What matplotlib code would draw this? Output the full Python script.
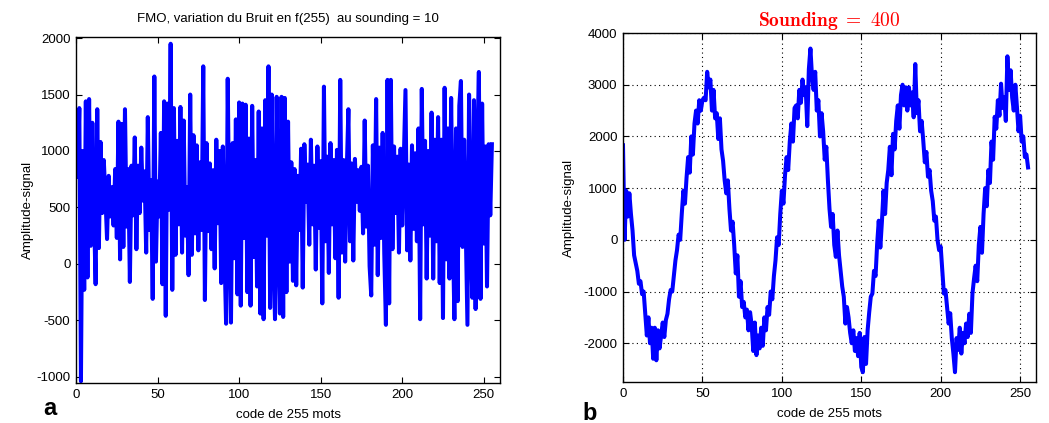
import matplotlib.pyplot as plt
import numpy as np

plt.rcParams['font.family'] = ['Liberation Sans', 'DejaVu Sans']
plt.rcParams['axes.unicode_minus'] = False
plt.rcParams['mathtext.fontset'] = 'cm'

# panel a : noise, sounding = 10  (x = 1..255)
noise_a = [
    770, 1380, -1040, 1000, -230, 1440, -120, 1460, 160, 1250,
    450, -180, 1370, 140, 1080, 450, 920, 600, 220, 780,
    420, 680, 340, 840, 230, 1260, 40, 1240, 150, 1370,
    330, 840, -160, 870, 430, 1120, 130, 870, 450, 1030,
    560, 820, 100, 1300, 300, 740, -310, 1660, 20, 730,
    420, 1160, -180, 1440, -460, 1420, 480, 1950, -230, 1380,
    80, 1090, 350, 1390, 100, 1270, 250, 680, -100, 1500,
    80, 1140, 270, 1050, 120, 900, 300, 1750, -320, 1070,
    290, 890, 130, 830, -40, 1100, 360, 1000, -170, 1040,
    110, -530, 1640, 280, -520, 1070, 50, 1280, -270, 1430,
    -370, 1420, 230, 1410, -250, 1110, -370, 1400, 60, 920,
    -200, 1350, -440, 1200, -490, 1450, 250, 1750, -390, 1500,
    100, -490, 1480, 200, -440, 1480, -470, 1470, -250, 1260,
    20, 900, -150, 840, -190, 780, 300, 1020, -210, 1060,
    550, 880, 170, 1100, 350, 870, -50, 1040, 320, 910,
    -350, 1570, 200, 950, -80, 1070, 350, 920, 50, 1010,
    -300, 1630, 100, 920, 20, 830, 1370, 200, 890, 30,
    930, 550, 830, 470, 860, 270, 1270, 330, 870, -20,
    -280, 1050, 170, 1460, -100, 1030, 230, 1160, 90, -540,
    1630, -350, 1630, 130, 1040, 450, 950, 100, 1020, 340,
    950, 1540, 120, 880, 30, 1050, 310, 980, 200, 1200,
    -490, 1550, 350, 1090, -130, 1000, 250, 1340, -130, 1100,
    200, 1300, -170, 1100, -480, 1560, 40, 1200, -130, 1470,
    320, -490, 1200, -330, 1400, 1620, 150, 1100, 300, -540,
    1500, 210, -300, 1450, -400, 1000, 1700, -310, 1420, 180,
    1040, -200, 1060, 430, 1060,
]

# panel b : sounding = 400  (x = 0..255)
signal_b = [
    1830, 0, 950, 450, 900, 500, 180, -300, -450, -600,
    -850, -800, -1050, -1000, -1430, -1850, -1500, -2000, -1700, -2300,
    -1700, -2330, -1750, -2100, -1850, -1600, -1880, -1550, -1430, -1150,
    -970, -1000, -700, -400, -200, 100, 0, 500, 950, 700,
    1200, 1600, 1300, 2000, 1650, 2250, 2500, 2250, 2700, 2500,
    2700, 2750, 2700, 3250, 2950, 3100, 2500, 2900, 2350, 2450,
    1950, 2350, 1750, 1530, 1150, 900, 1150, 600, 180, 350,
    -100, -650, -300, -1100, -800, -1300, -1200, -1500, -1350, -1750,
    -1400, -1650, -2150, -1600, -2230, -1850, -2100, -1700, -2050, -1500,
    -1750, -1300, -1450, -1000, -1150, -700, -400, 50, -100, 500,
    950, 700, 1250, 1600, 1350, 1900, 2250, 1900, 2550, 2600,
    2350, 2900, 2650, 3100, 2800, 2950, 2200, 3300, 3700, 3150,
    2900, 3250, 2500, 2700, 2000, 2450, 2100, 1550, 1800, 1150,
    600, 250, 500, -100, -330, 180, -300, -600, -900, -1100,
    -1620, -1300, -1500, -1800, -2000, -1750, -2150, -1900, -2250, -1800,
    -2460, -2560, -1880, -2400, -1750, -1400, -1100, -1040, -600, -700,
    -80, 370, -150, 350, 950, 500, 1100, 1350, 1800, 1250,
    2050, 1750, 2300, 2600, 2150, 2800, 3000, 2600, 2950, 2500,
    2950, 2600, 2850, 2370, 3400, 2450, 2700, 2100, 2300, 1930,
    1500, 1700, 1220, 1350, 950, 750, 370, 450, 0, -200,
    -130, -600, -1040, -970, -1300, -1620, -1420, -1900, -2200, -2560,
    -1900, -2130, -1700, -2200, -1800, -2000, -1620, -1880, -1430, -1800,
    -1040, -750, -500, -800, -100, 250, -250, 500, 1000, 650,
    1350, 1100, 1900, 1550, 2380, 2150, 2700, 2400, 3020, 2550,
    2760, 2300, 3550, 2900, 3280, 2750, 2500, 3000, 2570, 2100,
    2400, 1900, 2000, 1600, 1650, 1400,
]

x_a = np.arange(1, len(noise_a) + 1)
x_b = np.arange(len(signal_b))

fig = plt.figure(figsize=(10.49, 4.23), dpi=100)
ax1 = fig.add_axes([0.0725, 0.0946, 0.4042, 0.818])
ax2 = fig.add_axes([0.5939, 0.0969, 0.3937, 0.825])

for ax in (ax1, ax2):
    ax.tick_params(direction='in', top=True, right=True, length=4, labelsize=9.5,
                   pad=4)
    for s in ax.spines.values():
        s.set_linewidth(1.0)

ax1.plot(x_a, noise_a, color='#0000ff', lw=2.9)
ax1.set_xlim(0, 260)
ax1.set_ylim(-1055, 2010)
ax1.set_xticks([0, 50, 100, 150, 200, 250])
ax1.set_yticks([-1000, -500, 0, 500, 1000, 1500, 2000])
ax1.set_title('FMO, variation du Bruit en f(255)  au sounding = 10', fontsize=9.5, pad=11)
ax1.set_xlabel('code de 255 mots', fontsize=9.5, labelpad=6)
ax1.set_ylabel('Amplitude-signal', fontsize=9.5, labelpad=2)

ax2.plot(x_b, signal_b, color='#0000ff', lw=2.9)
ax2.set_xlim(0, 260)
ax2.set_ylim(-2750, 4000)
ax2.set_xticks([0, 50, 100, 150, 200, 250])
ax2.set_yticks([-2000, -1000, 0, 1000, 2000, 3000, 4000])
ax2.grid(True, color='black', linestyle=(0, (1, 3)), linewidth=0.8)
ax2.set_title(r'$\mathbf{Sounding\ =\ 400}$', color='red', fontsize=14, pad=5)
ax2.set_xlabel('code de 255 mots', fontsize=9.5, labelpad=6)
ax2.set_ylabel('Amplitude-signal', fontsize=9.5, labelpad=6)

fig.text(50 / 1049, 1 - 408 / 423, 'a', fontsize=17, fontweight='bold', va='center', ha='center')
fig.text(590 / 1049, 1 - 413 / 423, 'b', fontsize=17, fontweight='bold', va='center', ha='center')

fig.savefig('out.png', dpi=100)
